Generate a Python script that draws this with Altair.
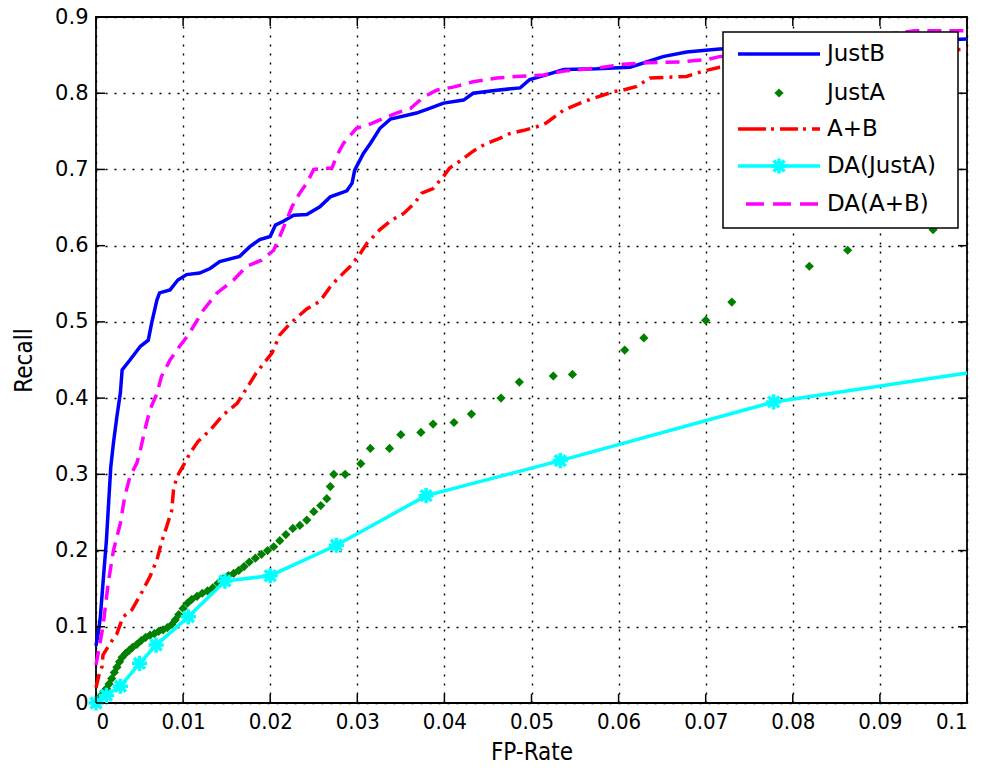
import altair as alt
import pandas as pd

# ---- ROC-style curves: false-positive rate vs recall ----
justb_x = [0.0000, 0.0003, 0.0005, 0.0008, 0.0012, 0.0014, 0.0017, 0.0020, 0.0024, 0.0028,
           0.0030, 0.0039, 0.0051, 0.0060, 0.0064, 0.0070, 0.0073, 0.0085, 0.0094, 0.0104,
           0.0119, 0.0131, 0.0142, 0.0165, 0.0177, 0.0188, 0.0200, 0.0206, 0.0215, 0.0227,
           0.0242, 0.0257, 0.0269, 0.0288, 0.0294, 0.0297, 0.0307, 0.0315, 0.0326, 0.0338,
           0.0368, 0.0383, 0.0399, 0.0422, 0.0433, 0.0460, 0.0487, 0.0498, 0.0517, 0.0537,
           0.0575, 0.0613, 0.0632, 0.0651, 0.0678, 0.0716, 0.1000]
justb_y = [0.075, 0.095, 0.113, 0.157, 0.214, 0.253, 0.310, 0.341, 0.376, 0.407,
           0.437, 0.450, 0.468, 0.476, 0.499, 0.529, 0.538, 0.542, 0.555, 0.562,
           0.564, 0.570, 0.579, 0.586, 0.599, 0.608, 0.612, 0.627, 0.632, 0.640,
           0.641, 0.651, 0.664, 0.672, 0.682, 0.699, 0.721, 0.734, 0.754, 0.766,
           0.774, 0.780, 0.787, 0.791, 0.800, 0.804, 0.807, 0.818, 0.824, 0.831,
           0.832, 0.834, 0.841, 0.848, 0.854, 0.858, 0.871]

justa_x = [0.0000, 0.0003, 0.0006, 0.0009, 0.0012, 0.0015, 0.0018, 0.0021, 0.0024, 0.0027,
           0.0030, 0.0034, 0.0038, 0.0042, 0.0047, 0.0052, 0.0057, 0.0062, 0.0067, 0.0072,
           0.0077, 0.0082, 0.0087, 0.0091, 0.0095, 0.0100, 0.0105, 0.0110, 0.0116, 0.0122,
           0.0128, 0.0134, 0.0140, 0.0146, 0.0152, 0.0158, 0.0164, 0.0170, 0.0176, 0.0183,
           0.0190, 0.0197, 0.0204, 0.0211, 0.0218, 0.0226, 0.0234, 0.0242, 0.0250, 0.0258,
           0.0265, 0.0269, 0.0273, 0.0286, 0.0304, 0.0315, 0.0337, 0.0350, 0.0373, 0.0387,
           0.0411, 0.0431, 0.0465, 0.0486, 0.0525, 0.0547, 0.0607, 0.0629, 0.0700, 0.0730,
           0.0819, 0.0863, 0.0961]
justa_y = [0.000, 0.005, 0.010, 0.015, 0.019, 0.025, 0.032, 0.040, 0.047, 0.054,
           0.060, 0.065, 0.069, 0.073, 0.077, 0.082, 0.086, 0.089, 0.091, 0.094,
           0.096, 0.099, 0.103, 0.109, 0.116, 0.124, 0.131, 0.136, 0.140, 0.144,
           0.147, 0.151, 0.157, 0.163, 0.167, 0.170, 0.174, 0.179, 0.185, 0.190,
           0.195, 0.200, 0.205, 0.213, 0.221, 0.229, 0.233, 0.240, 0.251, 0.259,
           0.268, 0.284, 0.300, 0.300, 0.314, 0.334, 0.334, 0.352, 0.355, 0.366,
           0.368, 0.379, 0.400, 0.421, 0.429, 0.431, 0.463, 0.479, 0.502, 0.526,
           0.573, 0.594, 0.621]

ab_x = [0.0000, 0.0003, 0.0007, 0.0008, 0.0016, 0.0024, 0.0031, 0.0041, 0.0052, 0.0062,
        0.0070, 0.0075, 0.0081, 0.0087, 0.0089, 0.0093, 0.0102, 0.0108, 0.0117, 0.0131,
        0.0146, 0.0162, 0.0184, 0.0202, 0.0211, 0.0223, 0.0242, 0.0257, 0.0269, 0.0276,
        0.0292, 0.0303, 0.0311, 0.0326, 0.0340, 0.0353, 0.0366, 0.0374, 0.0387, 0.0399,
        0.0406, 0.0418, 0.0433, 0.0448, 0.0464, 0.0475, 0.0490, 0.0506, 0.0517, 0.0537,
        0.0560, 0.0594, 0.0605, 0.0621, 0.0636, 0.0678, 0.0697, 0.0716, 0.1000]
ab_y = [0.020, 0.035, 0.048, 0.063, 0.078, 0.091, 0.113, 0.122, 0.144, 0.166,
        0.188, 0.210, 0.231, 0.253, 0.280, 0.297, 0.315, 0.328, 0.343, 0.358,
        0.378, 0.393, 0.433, 0.459, 0.483, 0.498, 0.517, 0.527, 0.546, 0.555,
        0.573, 0.589, 0.603, 0.621, 0.634, 0.642, 0.656, 0.669, 0.675, 0.691,
        0.702, 0.711, 0.724, 0.734, 0.741, 0.747, 0.751, 0.756, 0.761, 0.778,
        0.789, 0.802, 0.804, 0.809, 0.820, 0.822, 0.829, 0.834, 0.858]

da_justa_x = [0.0000, 0.0012, 0.0028, 0.0050, 0.0069, 0.0106, 0.0148, 0.0200, 0.0276,
              0.0379, 0.0533, 0.0778, 0.1000]
da_justa_y = [0.000, 0.010, 0.022, 0.052, 0.076, 0.113, 0.160, 0.167, 0.207,
              0.272, 0.318, 0.395, 0.433]
# the last vertex sits on the right edge of the axes and carries no marker
da_justa_marker = [True] * 12 + [False]

da_ab_x = [0.0000, 0.0008, 0.0014, 0.0020, 0.0028, 0.0033, 0.0039, 0.0047, 0.0051, 0.0056,
           0.0062, 0.0070, 0.0075, 0.0085, 0.0096, 0.0106, 0.0123, 0.0139, 0.0158, 0.0173,
           0.0190, 0.0204, 0.0211, 0.0219, 0.0225, 0.0234, 0.0242, 0.0250, 0.0271, 0.0276,
           0.0284, 0.0299, 0.0316, 0.0334, 0.0345, 0.0361, 0.0376, 0.0391, 0.0410, 0.0433,
           0.0460, 0.0483, 0.0514, 0.0537, 0.0575, 0.0605, 0.0632, 0.0670, 0.0701, 0.0716,
           0.0940, 0.1000]
da_ab_y = [0.050, 0.100, 0.157, 0.200, 0.236, 0.271, 0.297, 0.315, 0.332, 0.358,
           0.385, 0.406, 0.428, 0.450, 0.468, 0.483, 0.515, 0.538, 0.555, 0.573,
           0.581, 0.594, 0.612, 0.634, 0.651, 0.669, 0.682, 0.700, 0.702, 0.717,
           0.734, 0.754, 0.760, 0.769, 0.774, 0.780, 0.795, 0.804, 0.808, 0.815,
           0.820, 0.822, 0.824, 0.829, 0.833, 0.838, 0.840, 0.841, 0.844, 0.848,
           0.882, 0.882]

legend_labels = ["JustB", "JustA", "A+B", "DA(JustA)", "DA(A+B)"]
x_ticks = [0.0, 0.01, 0.02, 0.03, 0.04, 0.05, 0.06, 0.07, 0.08, 0.09, 0.1]
y_ticks = [0.0, 0.1, 0.2, 0.3, 0.4, 0.5, 0.6, 0.7, 0.8, 0.9]

BLUE, GREEN, RED, CYAN, MAGENTA = "#0000ff", "#008000", "#ff0000", "#00ffff", "#ff00ff"
STAR = "M-1,0L1,0M0,-1L0,1M-0.72,-0.72L0.72,0.72M-0.72,0.72L0.72,-0.72"
NARROW = "Liberation Sans Narrow, Arial Narrow, DejaVu Sans Condensed, Liberation Sans"

W, H = 871, 686

x_scale = alt.Scale(domain=[0, 0.1], nice=False, zero=False)
y_scale = alt.Scale(domain=[0, 0.9], nice=False, zero=False)

X = alt.X("fpr:Q", scale=x_scale,
          axis=alt.Axis(values=x_ticks, format=".2~f", title="FP-Rate"))
Y = alt.Y("recall:Q", scale=y_scale,
          axis=alt.Axis(values=y_ticks, format=".1~f", title="Recall"))


def frame(xs, ys):
    return pd.DataFrame({"fpr": xs, "recall": ys})


blue = alt.Chart(frame(justb_x, justb_y)).mark_line(
    color=BLUE, strokeWidth=3.5, interpolate="linear").encode(x=X, y=Y, order="fpr:Q")

green = alt.Chart(frame(justa_x, justa_y)).mark_point(
    shape="diamond", filled=True, color=GREEN, size=85, opacity=1).encode(x=X, y=Y)

red = alt.Chart(frame(ab_x, ab_y)).mark_line(
    color=RED, strokeWidth=3.5, strokeDash=[14, 6, 3, 6]).encode(x=X, y=Y, order="fpr:Q")

da_df = frame(da_justa_x, da_justa_y)
da_df["marker"] = da_justa_marker
cyan_line = alt.Chart(da_df).mark_line(color=CYAN, strokeWidth=3.5).encode(
    x=X, y=Y, order="fpr:Q")
cyan_pts = alt.Chart(da_df).transform_filter("datum.marker").mark_point(
    shape=STAR, color=CYAN, size=230, strokeWidth=3.5, opacity=1, filled=False).encode(x=X, y=Y)

magenta = alt.Chart(frame(da_ab_x, da_ab_y)).mark_line(
    color=MAGENTA, strokeWidth=3.5, strokeDash=[14, 8]).encode(x=X, y=Y, order="fpr:Q")

# inward tick marks on all four sides of the box
xt = pd.DataFrame({"fpr": x_ticks})
yt = pd.DataFrame({"recall": y_ticks})
tick_style = dict(color="black", strokeWidth=1.5)
ticks = [
    alt.Chart(xt).mark_rule(**tick_style).encode(x=X, y=alt.value(H), y2=alt.value(H - 9)),
    alt.Chart(xt).mark_rule(**tick_style).encode(x=X, y=alt.value(0), y2=alt.value(9)),
    alt.Chart(yt).mark_rule(**tick_style).encode(y=Y, x=alt.value(0), x2=alt.value(9)),
    alt.Chart(yt).mark_rule(**tick_style).encode(y=Y, x=alt.value(W), x2=alt.value(W - 9)),
]

# legend box in the upper-right corner
one = pd.DataFrame({"k": [0]})
LX0, LX1, LY0, LY1 = 627, 862, 15, 211
S0, S1, TX = 642, 724, 731
rows = [37, 76, 112, 149, 187]
legend = [
    alt.Chart(one).mark_rect(fill="white", stroke="black", strokeWidth=1.5).encode(
        x=alt.value(LX0), x2=alt.value(LX1), y=alt.value(LY0), y2=alt.value(LY1)),
    alt.Chart(one).mark_rule(color=BLUE, strokeWidth=3.5).encode(
        x=alt.value(S0), x2=alt.value(S1), y=alt.value(rows[0])),
    alt.Chart(one).mark_point(shape="diamond", filled=True, color=GREEN, size=85, opacity=1).encode(
        x=alt.value((S0 + S1) / 2), y=alt.value(rows[1])),
    alt.Chart(one).mark_rule(color=RED, strokeWidth=3.5, strokeDash=[28, 5, 3, 6, 18, 5, 3, 6]).encode(
        x=alt.value(S0), x2=alt.value(S1), y=alt.value(rows[2])),
    alt.Chart(one).mark_rule(color=CYAN, strokeWidth=3.5).encode(
        x=alt.value(S0), x2=alt.value(S1), y=alt.value(rows[3])),
    alt.Chart(one).mark_point(shape=STAR, color=CYAN, size=230, strokeWidth=3.5, opacity=1).encode(
        x=alt.value((S0 + S1) / 2), y=alt.value(rows[3])),
    alt.Chart(one).mark_rule(color=MAGENTA, strokeWidth=3.5, strokeDash=[18, 9]).encode(
        x=alt.value(S0 + 8), x2=alt.value(S1), y=alt.value(rows[4])),
]
for label, ry in zip(legend_labels, rows):
    legend.append(
        alt.Chart(one).mark_text(text=label, align="left", baseline="middle",
                                 font="DejaVu Sans", fontSize=23, color="black").encode(
            x=alt.value(TX), y=alt.value(ry)))

chart = alt.layer(
    blue, green, red, cyan_line, cyan_pts, magenta, *ticks, *legend
).properties(
    width=W, height=H,
    autosize=alt.AutoSizeParams(type="none"),
    padding={"left": 96, "top": 17, "right": 16, "bottom": 68},
    background="white",
).configure_view(
    stroke="black", strokeWidth=1.8
).configure_axis(
    grid=True, gridColor="black", gridDash=[2, 7], gridWidth=1.4, gridOpacity=1,
    domain=False, ticks=False,
    labelColor="black", titleColor="black", titleFontWeight="normal",
).configure_axisX(
    labelFont=NARROW, labelFontSize=22, labelPadding=8,
    titleFont=NARROW, titleFontSize=24, titlePadding=8,
).configure_axisY(
    labelFont="DejaVu Sans", labelFontSize=21, labelPadding=8,
    titleFont=NARROW, titleFontSize=24, titlePadding=18,
)

chart.save("out.html", embed_options={"renderer": "svg", "actions": False})
